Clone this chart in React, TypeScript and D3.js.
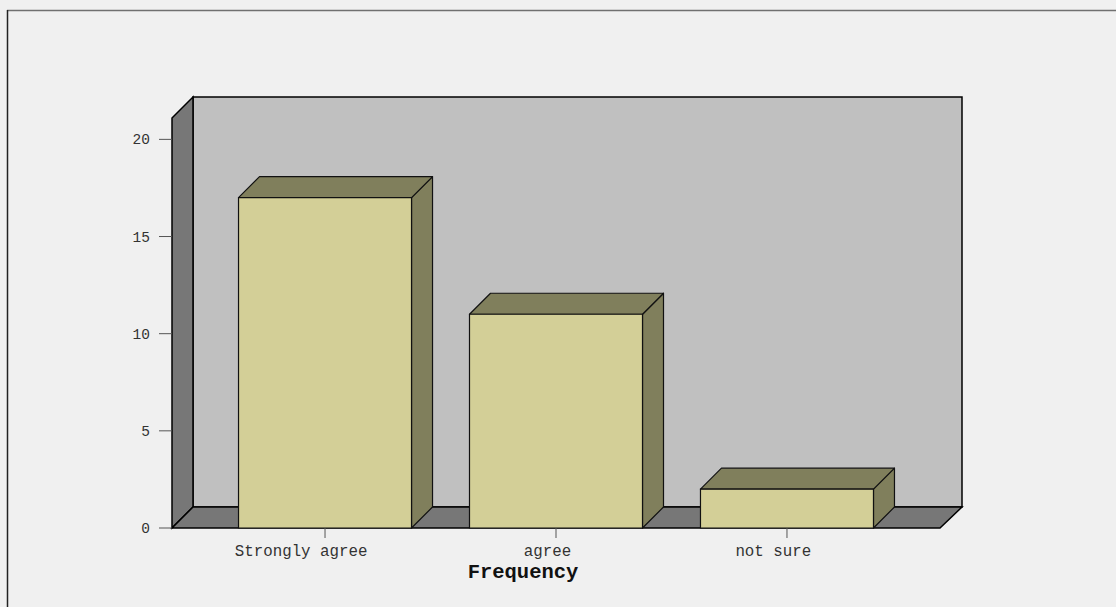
import React from "react";
import * as d3 from "d3";

const categories: string[] = ["Strongly agree", "agree", "not sure"];
const frequencies: number[] = [17, 11, 2];
const yTicks: number[] = [0, 5, 10, 15, 20];
const axisTitle = "Frequency";

const W = 1116;
const H = 607;
const DEPTH = 21;
const FONT = "'Liberation Mono', 'Courier New', monospace";
const LABEL_SIZE = 15.8;

export default function App() {
  const x0 = 172;
  const x1 = 940;
  const yBase = 528;
  const yTop = 118;

  const x = d3
    .scaleBand<string>()
    .domain(categories)
    .range([x0, x1])
    .paddingInner(0.251)
    .paddingOuter(0.288);
  const y = d3.scaleLinear().domain([0, 21.1]).range([yBase, yTop]);

  const pts = (p: [number, number][]) => p.map((q) => q.join(",")).join(" ");
  const d = DEPTH;

  const backWall = pts([
    [x0 + d, yTop - d],
    [x1 + d + 1, yTop - d],
    [x1 + d + 1, yBase - d],
    [x0 + d, yBase - d],
  ]);
  const leftWall = pts([
    [x0, yTop],
    [x0 + d, yTop - d],
    [x0 + d, yBase - d],
    [x0, yBase],
  ]);
  const floor = pts([
    [x0, yBase],
    [x0 + d, yBase - d],
    [x1 + d + 1, yBase - d],
    [x1, yBase],
  ]);

  const bw = x.bandwidth();

  return (
    <svg
      width={W}
      height={H}
      style={{ position: "absolute", left: 0, top: 0, display: "block" }}
    >
      <rect x={0} y={0} width={W} height={H} fill="#f0f0f0" />
      {/* outer frame */}
      <line x1={7} y1={10.5} x2={W} y2={10.5} stroke="#707070" strokeWidth={1.5} />
      <line x1={7.5} y1={10} x2={7.5} y2={H} stroke="#222" strokeWidth={1.5} />

      {/* 3D box */}
      <polygon points={backWall} fill="#c0c0c0" stroke="#000" strokeWidth={1.5} />
      <polygon points={leftWall} fill="#777777" stroke="#000" strokeWidth={1.5} />
      <polygon points={floor} fill="#777777" stroke="#000" strokeWidth={1.5} />

      {/* y axis ticks */}
      {yTicks.map((t) => (
        <g key={t}>
          <line x1={159} x2={x0} y1={y(t)} y2={y(t)} stroke="#555" strokeWidth={1} />
          <text
            x={150}
            y={y(t)}
            dy="0.35em"
            textAnchor="end"
            fontFamily={FONT}
            fontSize={14.5}
            fill="#333"
          >
            {t}
          </text>
        </g>
      ))}

      {/* bars */}
      {categories.map((c, i) => {
        const bx = x(c)!;
        const by = y(frequencies[i]);
        const front = pts([
          [bx, by],
          [bx + bw, by],
          [bx + bw, yBase],
          [bx, yBase],
        ]);
        const top = pts([
          [bx, by],
          [bx + d, by - d],
          [bx + bw + d, by - d],
          [bx + bw, by],
        ]);
        const side = pts([
          [bx + bw, by],
          [bx + bw + d, by - d],
          [bx + bw + d, yBase - d],
          [bx + bw, yBase],
        ]);
        return (
          <g key={c}>
            <polygon points={side} fill="#807f5c" stroke="#111" strokeWidth={1.2} strokeLinejoin="round" />
            <polygon points={top} fill="#807f5c" stroke="#111" strokeWidth={1.2} strokeLinejoin="round" />
            <polygon points={front} fill="#d3cf97" stroke="#111" strokeWidth={1.2} />
          </g>
        );
      })}

      {/* x axis ticks and labels; labels sit slightly left of their tick */}
      {categories.map((c) => {
        const cx = x(c)! + bw / 2;
        const shift = c.length * LABEL_SIZE * 0.108;
        return (
          <g key={"t" + c}>
            <line x1={cx} x2={cx} y1={yBase} y2={yBase + 10} stroke="#555" strokeWidth={1} />
            <text
              x={cx - shift}
              y={556}
              textAnchor="middle"
              fontFamily={FONT}
              fontSize={LABEL_SIZE}
              fill="#333"
            >
              {c}
            </text>
          </g>
        );
      })}

      <text
        x={523}
        y={578}
        textAnchor="middle"
        fontFamily={FONT}
        fontSize={20.5}
        fontWeight="bold"
        fill="#111"
      >
        {axisTitle}
      </text>
    </svg>
  );
}
